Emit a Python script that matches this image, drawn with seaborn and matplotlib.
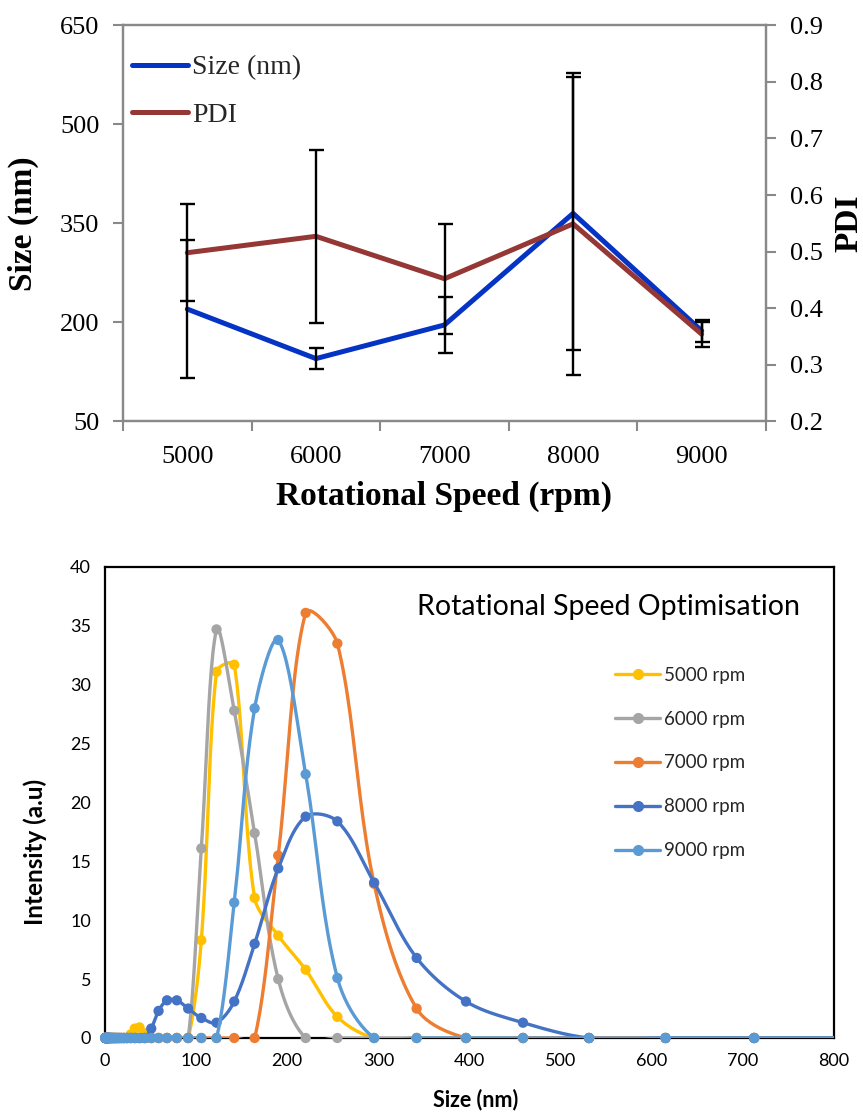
import numpy as np
import matplotlib
matplotlib.use("Agg")
import matplotlib.pyplot as plt
from matplotlib.lines import Line2D
import seaborn as sns
import pandas as pd

# ---------------- particle size / PDI versus rotational speed ----------------
speeds = ["5000", "6000", "7000", "8000", "9000"]
size_nm = [220, 145, 196, 365, 187]
size_sd = [104, 16, 42, 207, 17]
pdi = [0.498, 0.527, 0.452, 0.549, 0.354]
pdi_sd = [0.086, 0.153, 0.097, 0.267, 0.022]

# ---------------- DLS intensity distributions ----------------
bins_nm = [0.4, 0.4632, 0.5365, 0.6213, 0.7195, 0.8332, 0.9649, 1.117, 1.294, 1.499,
           1.736, 2.01, 2.328, 2.696, 3.122, 3.615, 4.187, 4.849, 5.615, 6.503,
           7.531, 8.721, 10.1, 11.7, 13.54, 15.69, 18.17, 21.04, 24.36, 28.21,
           32.67, 37.84, 43.82, 50.75, 58.77, 68.06, 78.82, 91.28, 105.7, 122.4,
           141.8, 164.2, 190.1, 220.2, 255.0, 295.3, 342.0, 396.1, 458.7, 531.2,
           615.1, 712.4, 825.0]

int_5000 = [0, 0, 0, 0, 0, 0, 0, 0, 0, 0,
            0, 0, 0, 0, 0, 0, 0, 0, 0, 0,
            0, 0, 0, 0, 0, 0, 0, 0, 0, 0.3,
            0.8, 0.9, 0.4, 0, 0, 0, 0, 0, 8.3, 31.1,
            31.7, 11.9, 8.7, 5.8, 1.8, 0, 0, 0, 0, 0,
            0, 0, 0]
int_6000 = [0, 0, 0, 0, 0, 0, 0, 0, 0, 0,
            0, 0, 0, 0, 0, 0, 0, 0, 0, 0,
            0, 0, 0, 0, 0, 0, 0, 0, 0, 0,
            0, 0, 0, 0, 0, 0, 0, 0, 16.1, 34.7,
            27.8, 17.4, 5.0, 0, 0, 0, 0, 0, 0, 0,
            0, 0, 0]
int_7000 = [0, 0, 0, 0, 0, 0, 0, 0, 0, 0,
            0, 0, 0, 0, 0, 0, 0, 0, 0, 0,
            0, 0, 0, 0, 0, 0, 0, 0, 0, 0,
            0, 0, 0, 0, 0, 0, 0, 0, 0, 0,
            0, 0, 15.5, 36.1, 33.5, 13.1, 2.5, 0, 0, 0,
            0, 0, 0]
int_8000 = [0, 0, 0, 0, 0, 0, 0, 0, 0, 0,
            0, 0, 0, 0, 0, 0, 0, 0, 0, 0,
            0, 0, 0, 0, 0, 0, 0, 0, 0, 0,
            0, 0, 0, 0.8, 2.3, 3.2, 3.2, 2.5, 1.7, 1.3,
            3.1, 8.0, 14.4, 18.8, 18.4, 13.2, 6.8, 3.1, 1.3, 0,
            0, 0, 0]
int_9000 = [0, 0, 0, 0, 0, 0, 0, 0, 0, 0,
            0, 0, 0, 0, 0, 0, 0, 0, 0, 0,
            0, 0, 0, 0, 0, 0, 0, 0, 0, 0,
            0, 0, 0, 0, 0, 0, 0, 0, 0, 0,
            11.5, 28.0, 33.8, 22.4, 5.1, 0, 0, 0, 0, 0,
            0, 0, 0]

series_labels = ["5000 rpm", "6000 rpm", "7000 rpm", "8000 rpm", "9000 rpm"]
series_values = [int_5000, int_6000, int_7000, int_8000, int_9000]
series_colors = ["#FFC000", "#A5A5A5", "#ED7D31", "#4472C4", "#5B9BD5"]

SIZE_BLUE = "#0533C4"
PDI_RED = "#953735"
AXIS_GREY = "#898989"

sns.set_theme(style="white")
plt.rcParams["font.family"] = ["Liberation Serif", "DejaVu Serif"]

W, H = 863, 1114
fig = plt.figure(figsize=(W / 100, H / 100), dpi=100)


def frac_box(left, top, right, bottom):
    return [left / W, 1 - bottom / H, (right - left) / W, (bottom - top) / H]


# ================= top panel =================
ax1 = fig.add_axes(frac_box(123, 25.3, 766, 421.3))
ax2 = ax1.twinx()

pos = np.arange(len(speeds))
top_df = pd.DataFrame({"pos": pos, "size": size_nm, "pdi": pdi})

sns.lineplot(data=top_df, x="pos", y="size", ax=ax1, color=SIZE_BLUE, lw=3.6,
             zorder=3, legend=False)
ax1.errorbar(pos, size_nm, yerr=size_sd, fmt="none", ecolor="black",
             elinewidth=1.7, capsize=5.4, capthick=1.7, zorder=4)

sns.lineplot(data=top_df, x="pos", y="pdi", ax=ax2, color=PDI_RED, lw=3.6,
             zorder=3, legend=False)
ax2.errorbar(pos, pdi, yerr=pdi_sd, fmt="none", ecolor="black",
             elinewidth=1.7, capsize=5.4, capthick=1.7, zorder=4)

ax1.set_xlim(-0.5, len(speeds) - 0.5)
ax1.set_ylim(50, 650)
ax1.set_yticks([50, 200, 350, 500, 650])
ax2.set_ylim(0.2, 0.9)
ax2.set_yticks([0.2, 0.3, 0.4, 0.5, 0.6, 0.7, 0.8, 0.9])
ax2.set_yticklabels(["0.2", "0.3", "0.4", "0.5", "0.6", "0.7", "0.8", "0.9"])

ax1.set_xticks(pos)
ax1.set_xticklabels(speeds)
ax1.set_xticks(np.arange(-0.5, len(speeds)), minor=True)
ax1.tick_params(axis="x", which="major", length=0, labelsize=19, pad=18,
                labelcolor="black")
ax1.tick_params(axis="x", which="minor", bottom=True, direction="out", length=7,
                width=1.5, color=AXIS_GREY)
ax1.tick_params(axis="y", left=True, direction="out", length=7, width=1.5,
                color=AXIS_GREY, labelsize=19, labelcolor="black", pad=10)
ax2.tick_params(axis="y", right=True, direction="out", length=7, width=1.5,
                color=AXIS_GREY, labelsize=19, labelcolor="black", pad=10)

for a in (ax1, ax2):
    for s in a.spines.values():
        s.set_color(AXIS_GREY)
        s.set_linewidth(1.6)
    a.grid(False)

ax1.set_xlabel("Rotational Speed (rpm)", fontsize=24, fontweight="bold",
               color="black", labelpad=9)
ax1.set_ylabel("Size (nm)", fontsize=24, fontweight="bold", color="black",
               labelpad=15)
ax2.set_ylabel("PDI", fontsize=24, fontweight="bold", color="black", labelpad=8)

top_handles = [Line2D([], [], color=SIZE_BLUE, lw=3.6),
               Line2D([], [], color=PDI_RED, lw=3.6)]
ax2.legend(top_handles, ["Size (nm)", "PDI"], loc="upper left",
           bbox_to_anchor=(0.014, 0.925), frameon=False, fontsize=20,
           handlelength=2.0, handletextpad=0.15, labelspacing=0.78,
           borderaxespad=0, borderpad=0)

# ================= bottom panel =================
ax3 = fig.add_axes(frac_box(105, 567, 834, 1038))
XMAX, YMAX = 800, 40
x_px = (834 - 105) / XMAX
y_px = (1038 - 567) / YMAX


def smooth_curve(x, y, steps=24, tension=1.0 / 6.0):
    """Bezier smoothing through every point; handles scale with chord lengths."""
    P = np.column_stack([np.asarray(x, float) * x_px, np.asarray(y, float) * y_px])
    n = len(P)
    out = [P[0]]
    t = np.linspace(0, 1, steps)[1:, None]
    for i in range(n - 1):
        p0 = P[i - 1] if i > 0 else P[i]
        p1, p2 = P[i], P[i + 1]
        p3 = P[i + 2] if i + 2 < n else P[i + 1]
        d01 = np.hypot(*(p1 - p0))
        d12 = np.hypot(*(p2 - p1))
        d23 = np.hypot(*(p3 - p2))
        f1 = tension * (2 * d12 / (d01 + d12) if d01 + d12 > 0 else 1.0)
        f2 = tension * (2 * d12 / (d12 + d23) if d12 + d23 > 0 else 1.0)
        f1 = min(f1, tension * 1.5)
        f2 = min(f2, tension * 1.5)
        c1 = p1 + (p2 - p0) * f1
        c2 = p2 - (p3 - p1) * f2
        seg = ((1 - t) ** 3) * p1 + 3 * ((1 - t) ** 2) * t * c1 \
            + 3 * (1 - t) * t ** 2 * c2 + t ** 3 * p2
        out.extend(seg)
    out = np.array(out)
    return out[:, 0] / x_px, out[:, 1] / y_px


bins_arr = np.array(bins_nm)
visible = bins_arr <= XMAX
for k, (lab, vals, col) in enumerate(zip(series_labels, series_values, series_colors)):
    sx, sy = smooth_curve(bins_nm, vals)
    ax3.plot(sx, sy, color=col, lw=2.4, zorder=3 + 2 * k, solid_capstyle="round")
    pts = pd.DataFrame({"size": bins_arr[visible], "intensity": np.array(vals)[visible]})
    sns.scatterplot(data=pts, x="size", y="intensity", ax=ax3, color=col, s=55,
                    edgecolor="none", zorder=4 + 2 * k, clip_on=False, legend=False)

ax3.set_xlim(0, XMAX)
ax3.set_ylim(0, YMAX)
ax3.set_xticks(np.arange(0, 801, 100))
ax3.set_yticks(np.arange(0, 41, 5))
sans = ["Lato", "DejaVu Sans"]
for lbl in ax3.get_xticklabels() + ax3.get_yticklabels():
    lbl.set_family(sans)
ax3.tick_params(axis="both", length=0, labelsize=13, labelcolor="black")
ax3.tick_params(axis="x", pad=11)
ax3.tick_params(axis="y", pad=10)
for s in ax3.spines.values():
    s.set_color("black")
    s.set_linewidth(1.6)
    s.set_zorder(2.5)
ax3.grid(False)

ax3.set_xlabel("Size (nm)", fontsize=15.5, fontweight="bold", family=sans,
               color="black")
ax3.xaxis.set_label_coords((476 - 105) / 729, (1038 - 1089) / 471)
ax3.set_ylabel("Intensity (a.u)", fontsize=17.5, fontweight="bold", family=sans,
               color="black")
ax3.yaxis.set_label_coords((47 - 105) / 729, (1038 - 852) / 471)

ax3.text(0.428, 0.915, "Rotational Speed Optimisation", transform=ax3.transAxes,
         fontsize=20.5, family=sans, color="black", ha="left", va="center")

bottom_handles = [Line2D([], [], color=c, lw=2.4, marker="o", markersize=7)
                  for c in series_colors]
ax3.legend(bottom_handles, series_labels, loc="upper left",
           bbox_to_anchor=(0.6996, 0.788), frameon=False,
           prop={"family": sans, "size": 13.5},
           handlelength=2.4, handletextpad=0.2, labelspacing=1.43,
           borderaxespad=0, borderpad=0)

fig.savefig("out.png", dpi=100)
